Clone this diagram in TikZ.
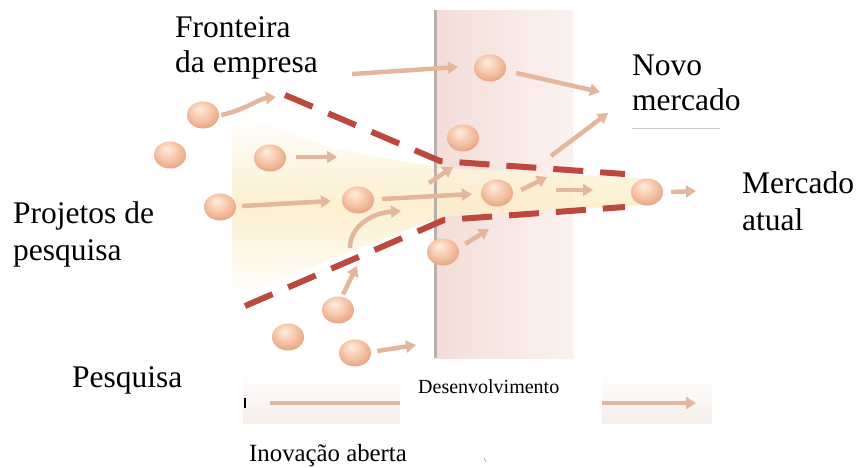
\documentclass[tikz,border=0pt]{standalone}
\usepackage{fontspec}
\setmainfont{Liberation Serif}
\usetikzlibrary{arrows.meta,shapes.geometric}
\definecolor{arrc}{RGB}{228,182,155}
\definecolor{dashc}{RGB}{188,72,62}
\definecolor{ballhi}{RGB}{255,238,225}
\definecolor{ballmid}{RGB}{245,195,165}
\definecolor{ballout}{RGB}{222,138,102}
\definecolor{pinkL}{RGB}{243,221,216}
\definecolor{pinkR}{RGB}{251,242,240}
\definecolor{glowB}{RGB}{252,238,200}
\definecolor{edgegray}{RGB}{185,175,175}
\pgfdeclareradialshading{ballshade}{\pgfpoint{-6bp}{12bp}}{color(0bp)=(ballhi); color(18bp)=(ballmid); color(40bp)=(ballout); color(50bp)=(ballout)}
\tikzset{
  ball/.style={ellipse, minimum width=32, minimum height=27, inner sep=0, shading=ballshade},
  arr/.style={line width=4.5, draw=arrc, -{Triangle[length=10,width=12]}},
  dashline/.style={line width=6, draw=dashc, dash pattern=on 30 off 17},
  big/.style={anchor=base west, inner sep=0, font=\fontsize{31.5}{36}\selectfont},
}
\begin{document}
\begin{tikzpicture}[x=1pt,y=-1pt]
\useasboundingbox (0,0) rectangle (856,467);
\fill[white] (0,0) rectangle (856,467);
% pink development panel
\shade[left color=pinkL, right color=pinkR] (436,10) rectangle (573,358);
% bottom band
\shade[top color=white, bottom color={rgb,255:red,246;green,239;blue,236}] (243,372) rectangle (712,423);
% yellow glow
\shade[top color=white, bottom color=white, middle color=glowB, fill opacity=0.85] (232,112) -- (330,148) -- (440,168) -- (640,178) -- (640,205) -- (440,217) -- (360,248) -- (232,298) -- cycle;
% boundary line of panel
\draw[edgegray, line width=3] (435,10) -- (435,358);
% balls
\node[ball] (b1) at (203,115) {};
\node[ball] (b2) at (170,155) {};
\node[ball] (b3) at (270,158) {};
\node[ball] (b4) at (220,207) {};
\node[ball] (b5) at (358,200) {};
\node[ball] (b6) at (490,68) {};
\node[ball] (b7) at (463,138) {};
\node[ball] (b8) at (497,193) {};
\node[ball] (b9) at (647,192) {};
\node[ball] (b10) at (443,252) {};
\node[ball] (b11) at (338,310) {};
\node[ball] (b12) at (288,337) {};
\node[ball] (b13) at (355,353) {};
% coordinates for free arrow ends
\coordinate (c1) at (276,97);
\coordinate (c2) at (337,157);
\coordinate (c3) at (331,201);
\coordinate (c4) at (472,194);
\coordinate (c5) at (357,266);
\coordinate (c6s) at (350,248);
\coordinate (c6) at (401,211);
\coordinate (c7) at (416,345);
\coordinate (c8) at (489,229);
\coordinate (c9s) at (429,183);
\coordinate (c9) at (453,167);
\coordinate (c10) at (547,177);
\coordinate (c11s) at (556,190);
\coordinate (c11) at (593,190);
\coordinate (c12s) at (551,156);
\coordinate (c12) at (608,113);
\coordinate (c13) at (600,92);
\coordinate (c14s) at (352,74);
\coordinate (c14) at (458,67);
\coordinate (c15) at (696,191);
\coordinate (bs) at (270,403);
\coordinate (be) at (696,403);
% arrows
\draw[arr] (b1.east) ++(2,0) .. controls (245,110) and (258,99) .. (c1);
\draw[arr] (b3.east) ++(10,-1) -- (c2);
\draw[arr] (b4.east) ++(6,-1) -- (c3);
\draw[arr] (b5.east) ++(8,-1) -- (c4);
\draw[arr] (b11.north) ++(5,-2) -- (c5);
\draw[arr] (c6s) .. controls (350,226) and (372,213) .. (c6);
\draw[arr] (b13.east) ++(6,-2) -- (c7);
\draw[arr] (b10.east) ++(6,-8) -- (c8);
\draw[arr] (c9s) -- (c9);
\draw[arr] (b8.east) ++(8,-3) -- (c10);
\draw[arr] (c11s) -- (c11);
\draw[arr] (c12s) -- (c12);
\draw[arr] (b6.east) ++(10,5) -- (c13);
\draw[arr] (c14s) -- (c14);
\draw[arr] (b9.east) ++(8,0) -- (c15);
\draw[arr, line width=4] (bs) -- (be);
% dashed boundary of the firm
\coordinate (u1) at (285,95);
\coordinate (u2) at (440,161);
\coordinate (u3) at (625,174);
\coordinate (l1) at (245,306);
\coordinate (l2) at (444,220);
\coordinate (l3) at (625,207);
\draw[dashline] (u1) -- (u2) -- (u3);
\draw[dashline] (l1) -- (l2) -- (l3);
% white box behind Desenvolvimento
\fill[white] (400,365) rectangle (602,425);
% small marks
\draw[black, line width=1.2] (245,398) -- (245,408);
\draw[gray!40, line width=0.6] (632,128) -- (720,128);
\draw[gray!60, line width=0.8] (484,458) -- (486,462);
% labels
\node[big] (t1) at (175,37) {Fronteira};
\node[big] (t2) at (175,72) {da empresa};
\node[big] (t3) at (632,75) {Novo};
\node[big] (t4) at (632,110) {mercado};
\node[big] (t5) at (13,223) {Projetos de};
\node[big] (t6) at (13,260) {pesquisa};
\node[big] (t7) at (72,387) {Pesquisa};
\node[big] (t8) at (742,193) {Mercado};
\node[big] (t9) at (742,230) {atual};
\node[anchor=base west, inner sep=0, font=\fontsize{20}{24}\selectfont] (t10) at (418,393) {Desenvolvimento};
\node[anchor=base west, inner sep=0, font=\fontsize{24.8}{30}\selectfont] (t11) at (249,461) {Inovação aberta};
\end{tikzpicture}
\end{document}
